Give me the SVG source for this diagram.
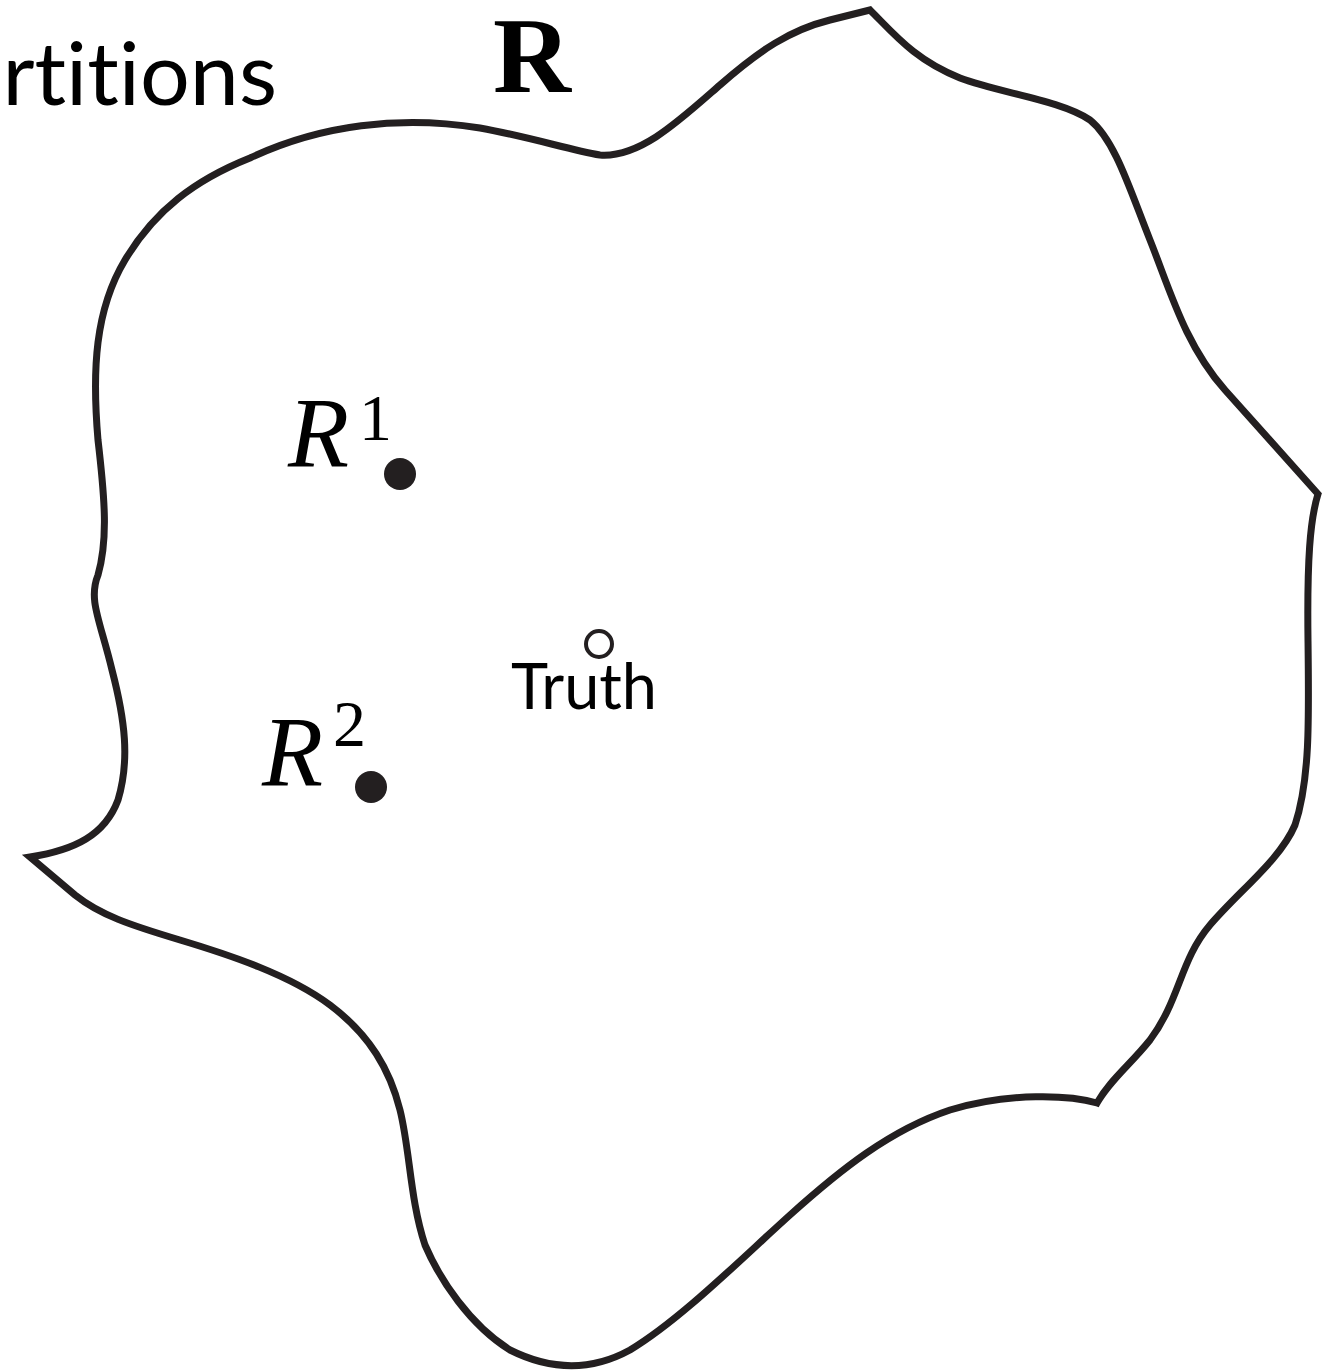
<svg xmlns="http://www.w3.org/2000/svg" width="1322" height="1371" viewBox="0 0 1322 1371">
<style>
.sans{font-family:Lato,"Open Sans","DejaVu Sans",sans-serif;fill:#000;font-variant-ligatures:none}
.serif{font-family:"Liberation Serif","DejaVu Serif",serif;fill:#000}
.blob{fill:none;stroke:#231f20;stroke-width:7;stroke-linejoin:miter}
.dot{fill:#231f20}
</style>
<rect width="1322" height="1371" fill="#fff"/>
<g id="region-R">
<path class="blob" d="M870,10 C895,35 915,60 960,78 C1000,93 1060,100 1090,120 C1115,140 1130,190 1150,240 C1170,290 1185,345 1225,390 L1318,494 C1310,520 1307,560 1308,640 C1309,720 1310,780 1295,825 C1280,860 1240,890 1210,925 C1180,960 1180,1000 1150,1040 C1130,1065 1110,1080 1097,1103 C1070,1095 1010,1092 950,1110 C890,1130 840,1170 790,1215 C740,1260 680,1320 630,1350 C590,1372 550,1370 510,1350 C470,1325 440,1280 425,1245 C410,1200 410,1150 400,1110 C390,1070 370,1035 330,1005 C290,975 230,955 180,940 C130,925 100,915 75,895 L30,857 C75,850 105,835 118,800 C130,760 125,720 112,670 C100,620 88,600 98,575 C108,540 105,500 98,440 C92,370 95,310 125,260 C155,210 195,180 250,158 C320,125 400,115 480,128 C530,137 570,150 600,155 C640,158 680,120 720,85 C760,50 790,30 830,20 Z"/>
<text class="serif" x="493" y="92" font-size="108" font-weight="bold">R</text>
</g>
<text class="sans" x="277" y="105" font-size="88" text-anchor="end">rtitions</text>
<g id="R1">
<text class="serif" x="288" y="466" font-size="100" font-style="italic">R</text>
<text class="serif" x="359" y="440" font-size="66">1</text>
<circle class="dot" cx="400" cy="474" r="16"/>
</g>
<g id="R2">
<text class="serif" x="262" y="785" font-size="100" font-style="italic">R</text>
<text class="serif" x="333" y="746" font-size="66">2</text>
<circle class="dot" cx="371" cy="787" r="16"/>
</g>
<g id="truth">
<circle cx="599" cy="644" r="13" fill="none" stroke="#231f20" stroke-width="4"/>
<text class="sans" x="584" y="709" font-size="63" text-anchor="middle">Truth</text>
</g>
</svg>
